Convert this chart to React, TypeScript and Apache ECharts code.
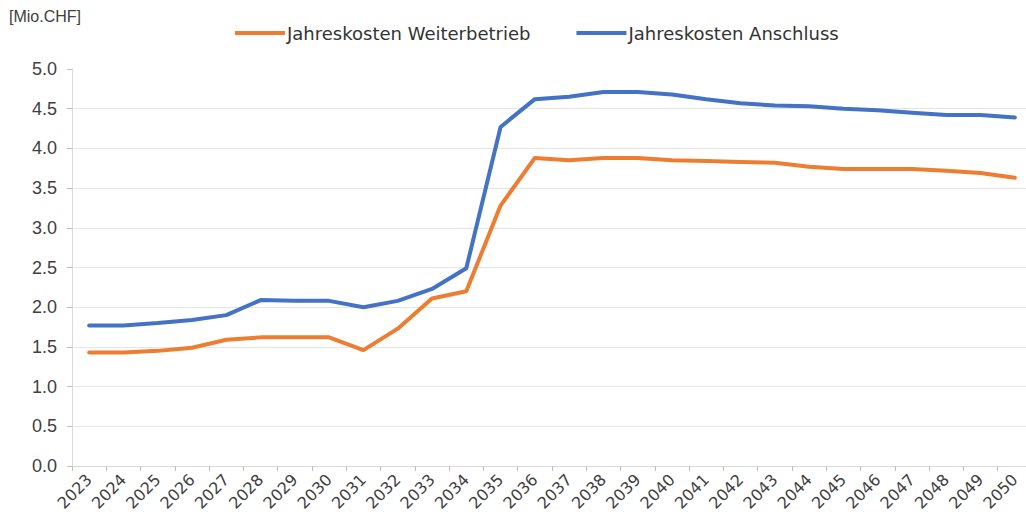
import React, { useEffect, useRef } from "react";
import * as echarts from "echarts";

const years = [
  "2023", "2024", "2025", "2026", "2027", "2028", "2029", "2030", "2031", "2032",
  "2033", "2034", "2035", "2036", "2037", "2038", "2039", "2040", "2041", "2042",
  "2043", "2044", "2045", "2046", "2047", "2048", "2049", "2050",
];

const weiterbetrieb = [
  1.43, 1.43, 1.45, 1.49, 1.59, 1.62, 1.62, 1.62, 1.46, 1.73,
  2.11, 2.2, 3.28, 3.88, 3.85, 3.88, 3.88, 3.85, 3.84, 3.83,
  3.82, 3.77, 3.74, 3.74, 3.74, 3.72, 3.69, 3.63,
];

const anschluss = [
  1.77, 1.77, 1.8, 1.84, 1.9, 2.09, 2.08, 2.08, 2.0, 2.08,
  2.23, 2.49, 4.27, 4.62, 4.65, 4.71, 4.71, 4.68, 4.62, 4.57,
  4.54, 4.53, 4.5, 4.48, 4.45, 4.42, 4.42, 4.39,
];

const seriesNames = ["Jahreskosten Weiterbetrieb", "Jahreskosten Anschluss"];
const unitLabel = "[Mio.CHF]";

export default function App() {
  const ref = useRef<HTMLDivElement>(null);
  useEffect(() => {
    if (!ref.current) return;
    const chart = echarts.init(ref.current, null, { renderer: "svg" });
    const font = "'Liberation Sans', Arial, sans-serif";
    const wide = "'DejaVu Sans', 'Liberation Sans', sans-serif";
    chart.setOption({
      animation: false,
      backgroundColor: "#ffffff",
      textStyle: { fontFamily: font },
      graphic: [
        {
          type: "text",
          left: 9,
          top: 8,
          style: { text: unitLabel, fontSize: 16, fill: "#404040", fontFamily: font },
        },
      ],
      legend: {
        left: 230,
        top: 19,
        itemWidth: 50,
        itemHeight: 4,
        itemGap: 46,
        icon: "rect",
        textStyle: { fontSize: 18, color: "#333333", fontFamily: wide, padding: [0, 0, 0, -3] },
        data: seriesNames,
      },
      grid: { left: 72, right: 2, top: 69, bottom: 58, containLabel: false },
      xAxis: {
        type: "category",
        data: years,
        boundaryGap: true,
        axisLine: { lineStyle: { color: "#d9d9d9", width: 1 } },
        axisTick: { show: true, length: 5, lineStyle: { color: "#bfbfbf" } },
        axisLabel: {
          rotate: 45,
          interval: 0,
          fontSize: 16,
          color: "#404040",
          margin: 11,
          fontFamily: wide,
        },
      },
      yAxis: {
        type: "value",
        min: 0,
        max: 5,
        interval: 0.5,
        axisLine: { show: true, lineStyle: { color: "#d9d9d9" } },
        axisTick: { show: true, length: 5, lineStyle: { color: "#bfbfbf" } },
        axisLabel: {
          fontSize: 18,
          color: "#404040",
          margin: 15,
          fontFamily: font,
          formatter: (v: number) => v.toFixed(1),
        },
        splitLine: { showMaxLine: false, lineStyle: { color: "#e6e6e6", width: 1 } },
      },
      series: [
        {
          name: seriesNames[0],
          type: "line",
          data: weiterbetrieb,
          showSymbol: false,
          symbol: "none",
          lineStyle: { color: "#ED7D31", width: 4, cap: "round", join: "round" },
          itemStyle: { color: "#ED7D31" },
        },
        {
          name: seriesNames[1],
          type: "line",
          data: anschluss,
          showSymbol: false,
          symbol: "none",
          lineStyle: { color: "#4472C4", width: 4, cap: "round", join: "round" },
          itemStyle: { color: "#4472C4" },
        },
      ],
    });
    return () => chart.dispose();
  }, []);
  return (
    <div
      ref={ref}
      style={{ position: "fixed", left: 0, top: 0, width: 1034, height: 524, background: "#fff" }}
    />
  );
}
